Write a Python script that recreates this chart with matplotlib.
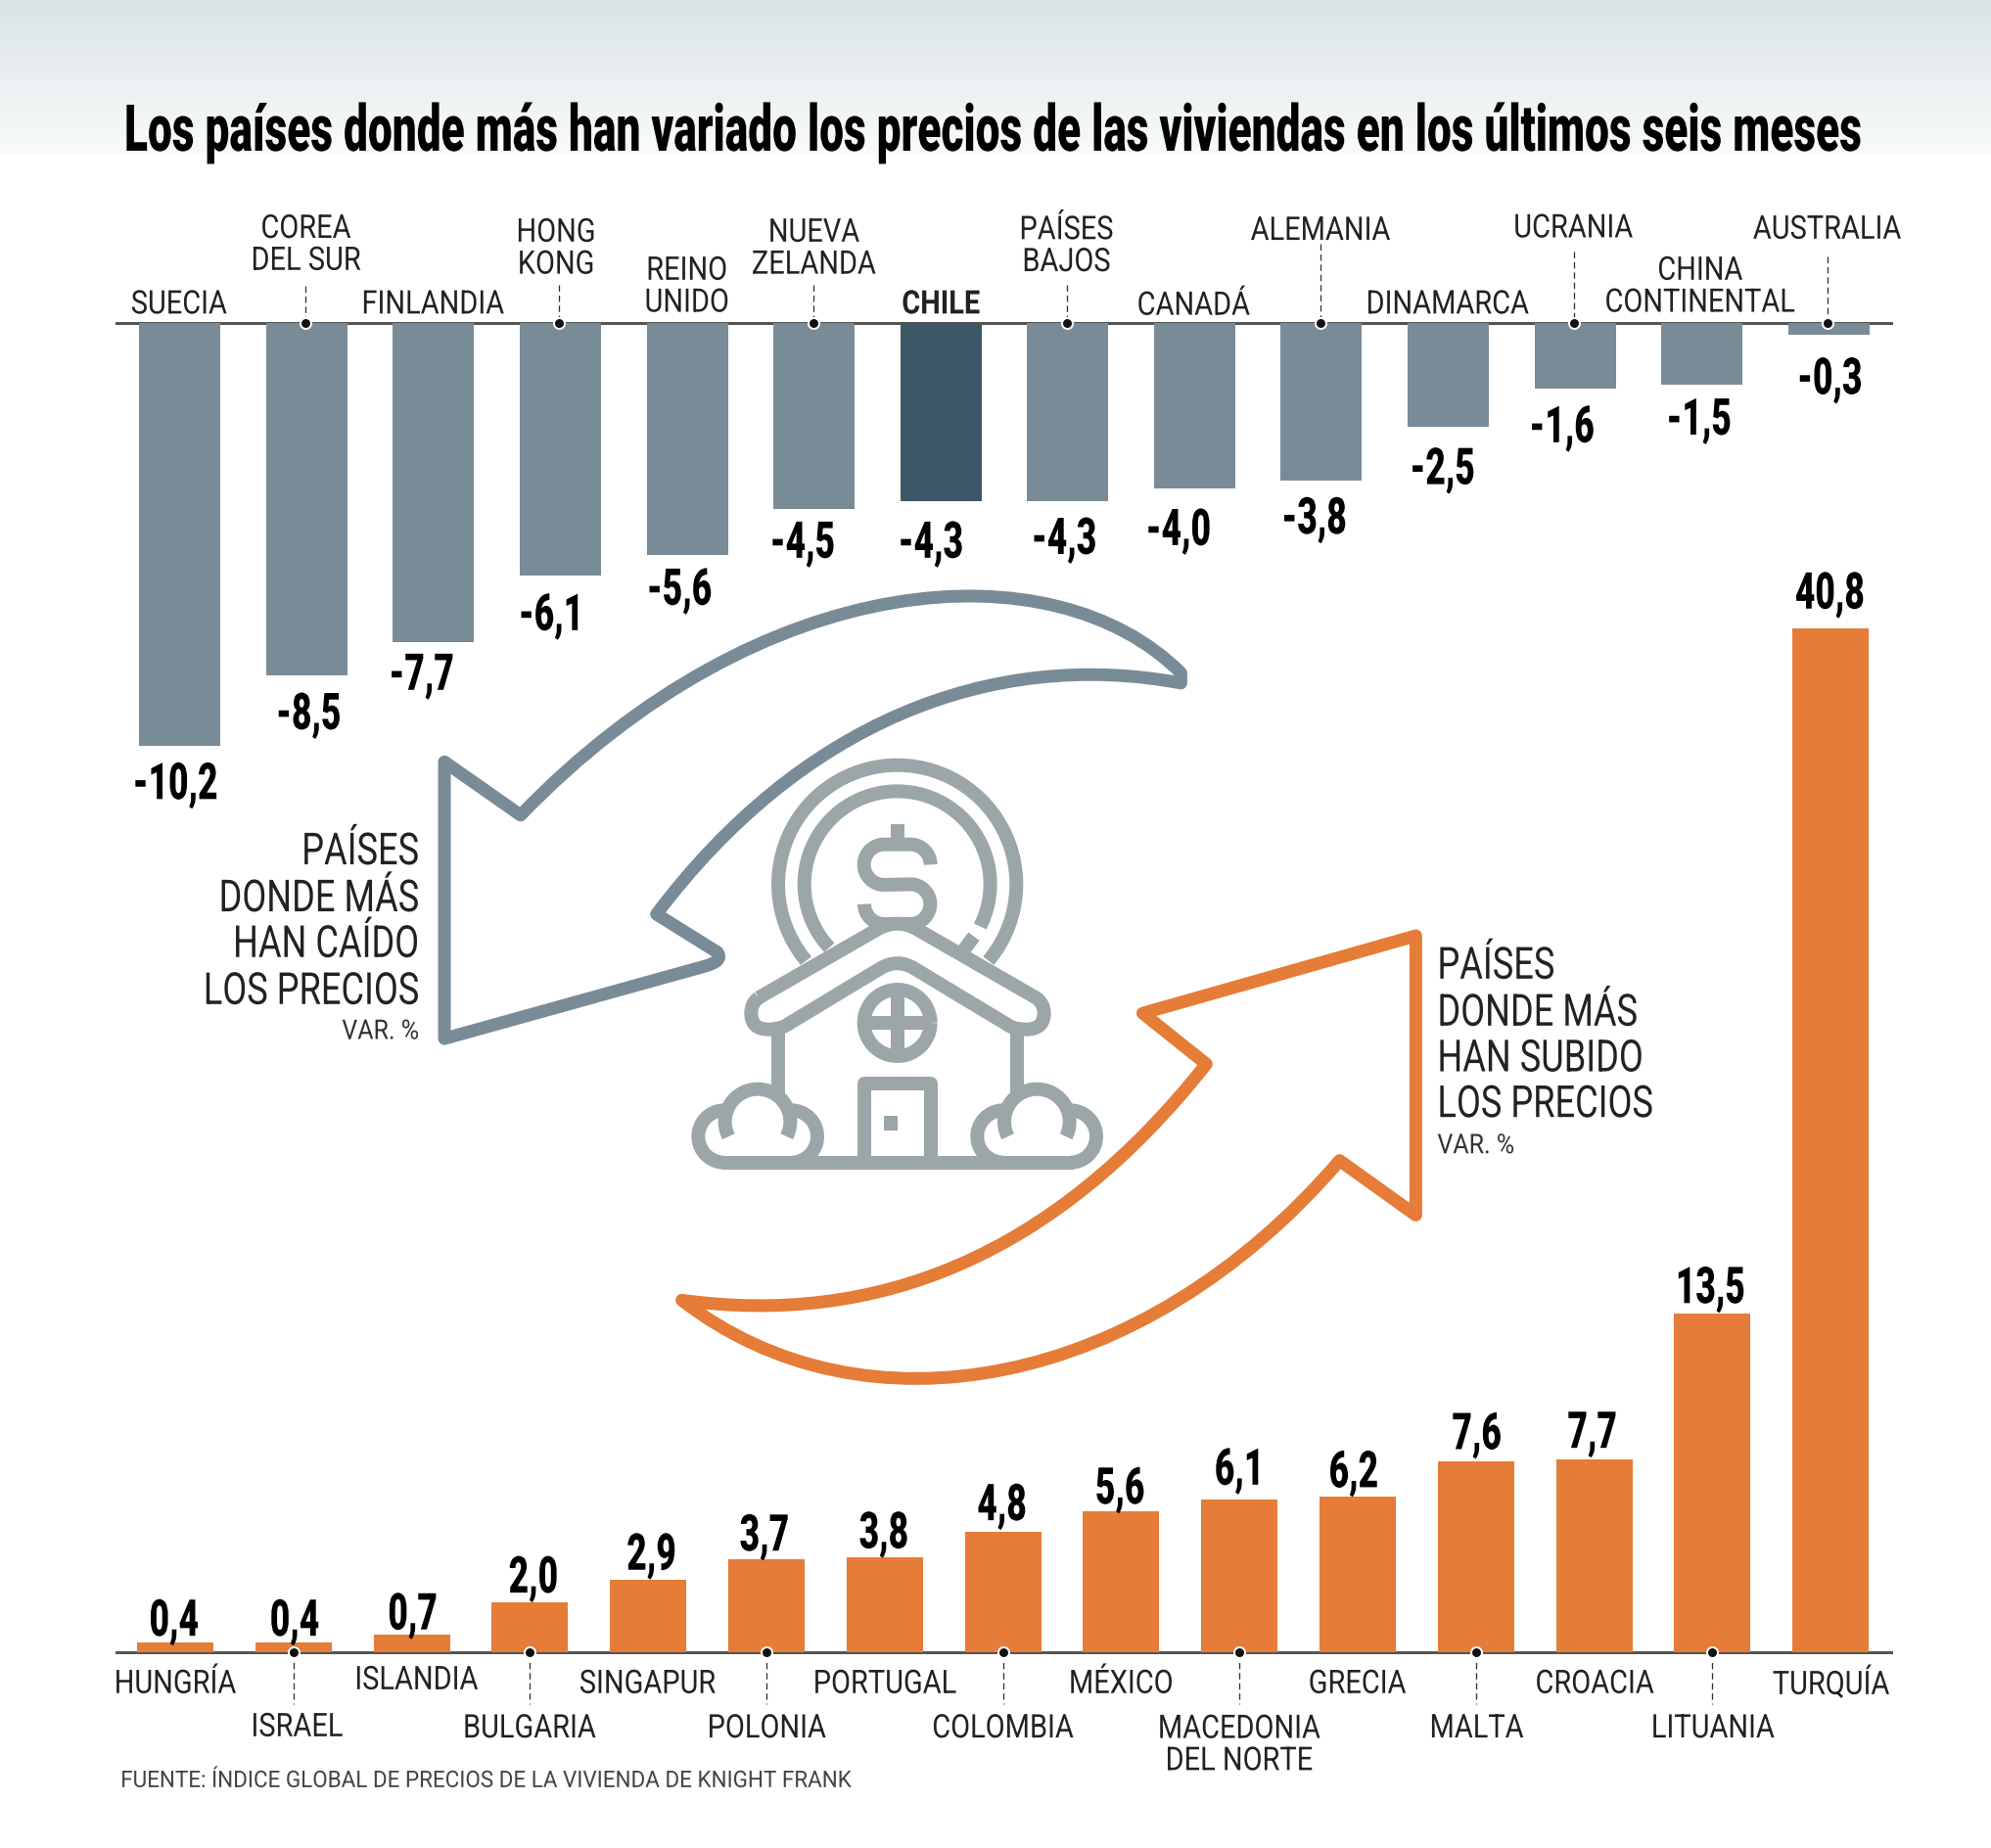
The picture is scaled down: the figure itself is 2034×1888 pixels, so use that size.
import numpy as np
import matplotlib
matplotlib.use("Agg")
import matplotlib.pyplot as plt
from matplotlib.colors import LinearSegmentedColormap
from matplotlib.patheffects import AbstractPathEffect
from matplotlib.path import Path
from matplotlib.patches import PathPatch, Rectangle
from matplotlib.text import Text
from matplotlib.transforms import Affine2D, Bbox

plt.rcParams["font.family"] = ["Roboto", "DejaVu Sans"]

W, H = 2034, 1888
DPI = 200
S = W / 1568

paises_baja = ["SUECIA", "COREA\nDEL SUR", "FINLANDIA", "HONG\nKONG", "REINO\nUNIDO", "NUEVA\nZELANDA", "CHILE",
               "PAÍSES\nBAJOS", "CANADÁ", "ALEMANIA", "DINAMARCA", "UCRANIA", "CHINA\nCONTINENTAL", "AUSTRALIA"]
var_baja = [-10.2, -8.5, -7.7, -6.1, -5.6, -4.5, -4.3, -4.3, -4.0, -3.8, -2.5, -1.6, -1.5, -0.3]

paises_alza = ["HUNGRÍA", "ISRAEL", "ISLANDIA", "BULGARIA", "SINGAPUR", "POLONIA", "PORTUGAL", "COLOMBIA", "MÉXICO",
               "MACEDONIA\nDEL NORTE", "GRECIA", "MALTA", "CROACIA", "LITUANIA", "TURQUÍA"]
var_alza = [0.4, 0.4, 0.7, 2.0, 2.9, 3.7, 3.8, 4.8, 5.6, 6.1, 6.2, 7.6, 7.7, 13.5, 40.8]

# label placement, (x, y) in the 1568 view
nombre_baja_xy = [(141, 238), (241, 191), (341, 238), (438, 194), (541, 224), (641, 194), (741, 238), (840, 192),
                  (940, 239), (1040, 180), (1140, 238), (1239, 178), (1339, 224), (1439, 179)]
valor_baja_xy = [(138, 617), (243, 562), (332, 531), (434, 484), (535, 464), (632, 427), (733, 427), (838, 424),
                 (928, 417), (1035, 408), (1136, 369), (1230, 336), (1338, 330), (1441, 298)]
tallo_baja = {1: 225, 3: 224, 5: 224, 7: 224, 9: 192, 11: 198, 13: 202}

nombre_alza_xy = [(138, 1324), (234, 1358), (328, 1321), (417, 1359), (510, 1324), (604, 1359), (697, 1324),
                  (790, 1359), (883, 1324), (976, 1372), (1069, 1324), (1163, 1359), (1256, 1324), (1349, 1359),
                  (1442, 1324)]
valor_alza_xy = [(137, 1274), (232, 1274), (325, 1269), (420, 1240), (513, 1222), (602, 1207), (696, 1205), (789, 1183),
                 (882, 1170), (976, 1155), (1066, 1157), (1163, 1127), (1254, 1126), (1347, 1012), (1441, 465)]
tallo_alza = [1, 3, 5, 7, 9, 11, 13]

GRIS = "#7a8b98"
GRIS_CHILE = "#3d5766"
NARANJA = "#e57c37"
ICONO = "#9ca6a9"
LINEA = "#555555"
DY = 3.5  # va="center" sits a little high for caps


def px_lw(px):
    return px * 72 / DPI


class Squeeze(AbstractPathEffect):
    # no condensed face is installed, so rescale the glyph outlines around the anchor
    def __init__(self, sx, sy, ax, ay):
        super().__init__()
        self.sx, self.sy, self.ax, self.ay = sx, sy, ax, ay

    def draw_path(self, renderer, gc, tpath, affine, rgbFace=None):
        narrow = Affine2D().translate(-self.ax, -self.ay).scale(self.sx, self.sy).translate(self.ax, self.ay)
        renderer.draw_path(gc, tpath, affine + narrow, rgbFace)


class NarrowText(Text):
    def __init__(self, x, y, text, sx=1.0, sy=1.0, **kw):
        super().__init__(x, y, text, clip_on=False, **kw)
        self.sx = sx
        self.sy = sy
        self.anchor = (x, H - y)
        self.set_path_effects([Squeeze(sx, sy, x, H - y)])

    def get_window_extent(self, renderer=None, dpi=None):
        bb = super().get_window_extent(renderer, dpi)
        ax, ay = self.anchor
        return Bbox.from_extents(ax + self.sx * (bb.x0 - ax), ay + self.sy * (bb.y0 - ay),
                                 ax + self.sx * (bb.x1 - ax), ay + self.sy * (bb.y1 - ay))


def bar_axes(fig, top_px, bottom_px, first_px, pitch_px, ylim):
    x0, x1 = 119, 1932
    ax = fig.add_axes([x0 / W, 1 - bottom_px / H, (x1 - x0) / W, (bottom_px - top_px) / H])
    ax.set_xlim((x0 - first_px) / pitch_px, (x1 - first_px) / pitch_px)
    ax.set_ylim(*ylim)
    ax.axis("off")
    ax.patch.set_alpha(0)
    return ax


def arc(cx, cy, r, a0, a1):
    t = np.radians(np.linspace(a0, a1, 60))
    return np.column_stack([cx + r * np.cos(t), cy + r * np.sin(t)])


def icon_xy(pts):
    # icon was measured on a 3x crop starting at (650, 740)
    pts = np.asarray(pts, dtype=float)
    return np.column_stack([650 + pts[:, 0] / 3, 740 + pts[:, 1] / 3])


def draw_icon(ax):
    kw = dict(color=ICONO, lw=px_lw(14), solid_capstyle="butt", solid_joinstyle="round", zorder=3)

    def stroke(pts):
        xy = icon_xy(pts)
        ax.plot(xy[:, 0], xy[:, 1], **kw)

    # coin
    stroke(arc(800, 490, 365, 140, 400))
    stroke(arc(800, 490, 285, 137, 387))
    stroke([(1035, 650), (1000, 697)])
    # dollar sign
    stroke([(800, 305), (800, 365)])
    stroke(np.vstack([arc(840, 430, 62, 0, -90), arc(760, 430, 62, -90, -270), arc(840, 551, 61, -90, 90),
                      arc(760, 551, 61, 90, 180)]))
    # walls, window, door
    stroke([(434, 945), (434, 1130)])
    stroke([(1166, 945), (1166, 1130)])
    stroke(arc(800, 915, 102, 0, 360))
    stroke([(800, 815), (800, 1015)])
    stroke([(700, 915), (900, 915)])
    stroke([(700, 1345), (700, 1100), (902, 1100), (902, 1345)])
    kx, ky = icon_xy([(758, 1200)])[0]
    ax.add_patch(Rectangle((kx, ky), 44 / 3, 44 / 3, color=ICONO, lw=0, zorder=3))
    # bushes and ground
    stroke([(260, 1343), (1340, 1343)])
    for m in (0, 1600):
        sign = -1 if m else 1

        def mx(p):
            p = np.asarray(p, dtype=float)
            return np.column_stack([m + sign * p[:, 0], p[:, 1]])

        stroke(mx(arc(372, 1218, 100, 153, 387)))
        stroke(mx(arc(270, 1263, 80, -90, -270)))
        stroke(mx(arc(475, 1263, 80, -90, 90)))

    # roof
    roof = [(375, 838), (745, 625), (800, 597), (855, 625), (1225, 838), (1250, 855), (1250, 885), (1250, 935),
            (1195, 935), (1165, 935), (1145, 925), (855, 750), (800, 715), (745, 750), (455, 925), (435, 935),
            (405, 935), (352, 935), (352, 885), (352, 855), (375, 838)]
    codes = [Path.MOVETO, Path.LINETO, Path.CURVE3, Path.CURVE3, Path.LINETO, Path.CURVE3, Path.CURVE3, Path.CURVE3,
             Path.CURVE3, Path.CURVE3, Path.CURVE3, Path.LINETO, Path.CURVE3, Path.CURVE3, Path.LINETO, Path.CURVE3,
             Path.CURVE3, Path.CURVE3, Path.CURVE3, Path.CURVE3, Path.CURVE3]
    ax.add_patch(PathPatch(Path(icon_xy(roof), codes), fc="white", ec=ICONO, lw=px_lw(14), zorder=3.1,
                           joinstyle="round"))


def draw_arrow(ax, pts, codes, color):
    verts = [(x * S, y * S) for x, y in pts]
    ax.add_patch(PathPatch(Path(verts, codes), fc="none", ec=color, lw=px_lw(13), joinstyle="round", zorder=2))


def punto(ax, x, y):
    ax.plot([x], [y], "o", ms=px_lw(11), mfc="#111111", mec="white", mew=px_lw(2), zorder=6)


fig = plt.figure(figsize=(W / DPI, H / DPI), dpi=DPI, facecolor="white")
bg = fig.add_axes([0, 0, 1, 1])
bg.set_xlim(0, W)
bg.set_ylim(H, 0)
bg.axis("off")

cmap = LinearSegmentedColormap.from_list("fondo", ["#dae3e6", "#f9fbfb"])
bg.imshow(np.linspace(0, 1, 200).reshape(-1, 1), extent=(0, W, 158, 0), cmap=cmap, aspect="auto", zorder=0)
bg.set_xlim(0, W)
bg.set_ylim(H, 0)

# arrows
C4 = Path.CURVE4
gris_pts = [(930, 530), (830, 430), (600, 445), (410, 642), (350, 600), (350, 818), (555, 761), (570, 757), (565, 750),
            (517, 720), (630, 570), (780, 510), (930, 538), (930, 530)]
gris_codes = [Path.MOVETO, C4, C4, C4, Path.LINETO, Path.LINETO, Path.LINETO, Path.CURVE3, Path.CURVE3, Path.LINETO,
              C4, C4, C4, Path.CLOSEPOLY]
draw_arrow(bg, gris_pts, gris_codes, GRIS)
naranja_pts = [(537, 1024), (690, 1045), (830, 990), (950, 838), (900, 798), (1115, 737), (1115, 957), (1055, 914),
               (900, 1095), (680, 1135), (537, 1024), (537, 1024)]
naranja_codes = [Path.MOVETO, C4, C4, C4, Path.LINETO, Path.LINETO, Path.LINETO, Path.LINETO, C4, C4, C4,
                 Path.CLOSEPOLY]
draw_arrow(bg, naranja_pts, naranja_codes, NARANJA)

draw_icon(bg)

# baselines
bg.plot([119, 1932], [329.5, 329.5], color=LINEA, lw=px_lw(3), zorder=1)
bg.plot([119, 1932], [1688, 1688], color=LINEA, lw=px_lw(3), zorder=1)

# falling bars: baseline at y=329.5, 42.4 px per point
ax_top = bar_axes(fig, 329.5, 800, 183.6, 129.6, (-(800 - 329.5) / 42.4, 0))
colores = [GRIS_CHILE if p == "CHILE" else GRIS for p in paises_baja]
ax_top.bar(range(len(var_baja)), var_baja, width=83 / 129.6, color=colores, zorder=2)

# rising bars: baseline at y=1688, 25.63 px per point
ax_bot = bar_axes(fig, 600, 1688, 179, 120.8, (0, (1688 - 600) / 25.63))
ax_bot.bar(range(len(var_alza)), var_alza, width=78 / 120.8, color=NARANJA, zorder=2)

txt = fig.add_axes([0, 0, 1, 1])
txt.set_xlim(0, W)
txt.set_ylim(H, 0)
txt.axis("off")
txt.patch.set_alpha(0)


def texto(x, y, s, sx=1.0, sy=1.0, **kw):
    kw.setdefault("va", "center")
    return txt.add_artist(NarrowText(x, y, s, sx=sx, sy=sy, **kw))


# the title is set at the size that fits its width, then stretched up to the reference height
TITULO = "Los países donde más han variado los precios de las viviendas en los últimos seis meses"
prueba = txt.text(0, 0, TITULO, fontsize=23.8, fontweight="black")
titulo_k = 1776 / prueba.get_window_extent(fig.canvas.get_renderer()).width
prueba.remove()
texto(127, 154, TITULO, sy=1 / titulo_k, fontsize=23.8 * titulo_k, fontweight="black", color="black", ha="left",
      va="baseline")

for nombre, (x, y) in zip(paises_baja, nombre_baja_xy):
    peso = "bold" if nombre == "CHILE" else "normal"
    texto(x * S, (y + 2) * S, nombre, 0.87, fontsize=12, fontweight=peso, color="#222222", ha="center",
          linespacing=1.03)
for v, (x, y) in zip(var_baja, valor_baja_xy):
    texto(x * S, (y + 1.5) * S, f"{v:.1f}".replace(".", ","), 0.68, fontsize=18.7, fontweight="black", color="black",
          ha="center")
for i, y in tallo_baja.items():
    x = 183.6 + 129.6 * i - 1
    txt.plot([x, x], [y * S, 329.5], color="#333333", lw=px_lw(1.3), dashes=(5, 3), zorder=5)
    punto(txt, x, 329.5)

for nombre, (x, y) in zip(paises_alza, nombre_alza_xy):
    texto(x * S, (y + 2.5) * S, nombre, 0.87, fontsize=12, color="#222222", ha="center", linespacing=1.03)
for v, (x, y) in zip(var_alza, valor_alza_xy):
    texto(x * S, (y + DY) * S, f"{v:.1f}".replace(".", ","), 0.68, fontsize=18.7, fontweight="black", color="black",
          ha="center")
for i in tallo_alza:
    x = 179 + 120.8 * i
    txt.plot([x, x], [1688, 1342 * S], color="#333333", lw=px_lw(1.3), dashes=(5, 3), zorder=5)
    punto(txt, x, 1688)

for linea, y in zip(["PAÍSES", "DONDE MÁS", "HAN CAÍDO", "LOS PRECIOS"], [669, 706, 742, 779]):
    texto(330 * S, (y + 2.5) * S, linea, 0.8, fontsize=16.3, color="#222222", ha="right")
texto(330 * S, (810 + 2.5) * S, "VAR. %", 0.9, fontsize=10, color="#333333", ha="right")
for linea, y in zip(["PAÍSES", "DONDE MÁS", "HAN SUBIDO", "LOS PRECIOS"], [759, 796, 832, 868]):
    texto(1132 * S, (y + 2.5) * S, linea, 0.8, fontsize=16.3, color="#222222", ha="left")
texto(1132 * S, (900 + 2.5) * S, "VAR. %", 0.9, fontsize=10, color="#333333", ha="left")

texto(95 * S, (1400 + 2.5) * S, "FUENTE: ÍNDICE GLOBAL DE PRECIOS DE LA VIVIENDA DE KNIGHT FRANK", 0.95, fontsize=8.5,
      color="#444444", ha="left")

fig.savefig("out.png", dpi=DPI)
